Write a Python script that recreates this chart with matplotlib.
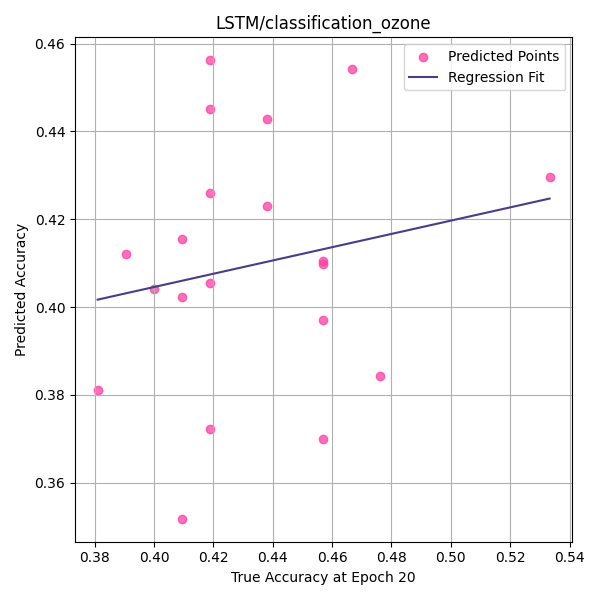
import numpy as np
import matplotlib
matplotlib.use("Agg")
import matplotlib.pyplot as plt

true_acc = [0.419, 0.4667, 0.419, 0.438, 0.5333, 0.419, 0.438, 0.4095, 0.3905, 0.457,
            0.457, 0.419, 0.400, 0.4095, 0.457, 0.476, 0.381, 0.419, 0.457, 0.4095]
pred_acc = [0.4562, 0.4543, 0.4451, 0.4428, 0.4296, 0.4260, 0.4230, 0.4155, 0.4121, 0.4105,
            0.4099, 0.4055, 0.4042, 0.4023, 0.3971, 0.3842, 0.3812, 0.3722, 0.3699, 0.3518]

x = np.array(true_acc)
y = np.array(pred_acc)
slope, intercept = np.polyfit(x, y, 1)
xs = np.linspace(x.min(), x.max(), 100)

plt.figure(figsize=(6, 6))
plt.scatter(x, y, color="#ff3fa4", alpha=0.75, label="Predicted Points")
plt.plot(xs, slope * xs + intercept, color="darkslateblue", label="Regression Fit")
plt.xlabel("True Accuracy at Epoch 20")
plt.ylabel("Predicted Accuracy")
plt.title("LSTM/classification_ozone")
plt.grid(True)
plt.legend(loc="upper right")
plt.tight_layout()
plt.savefig("out.png", dpi=100)
